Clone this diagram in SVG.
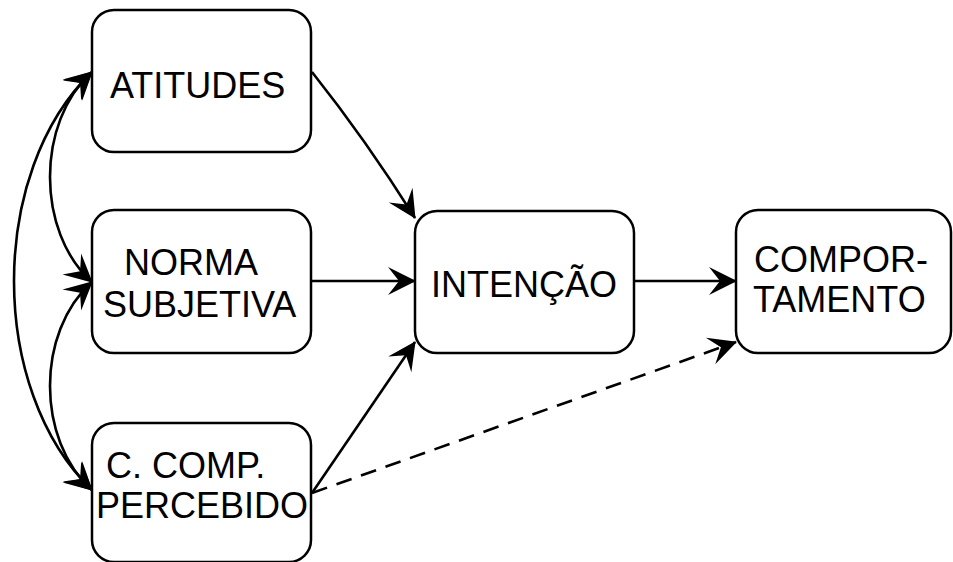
<svg xmlns="http://www.w3.org/2000/svg" width="953" height="562" viewBox="0 0 953 562">
<style>
.box{fill:#fff;stroke:#000;stroke-width:2.5}
.lbl{font-family:"Liberation Sans",Arial,sans-serif;font-size:36px;fill:#000}
.c{fill:none;stroke:#000;stroke-width:2.6}
.d{stroke-dasharray:16 10}
</style>
<defs>
<marker id="ah" markerUnits="userSpaceOnUse" viewBox="-30 -16 32 32" refX="0" refY="0" markerWidth="32" markerHeight="32" orient="auto-start-reverse">
<path d="M1,0 L-27,-14 L-16,0 L-27,14 Z" fill="#000"/>
</marker>
</defs>
<rect width="953" height="562" fill="#fff"/>
<g id="connectors">
<path class="c" d="M92,72 C-12,172 -12,390 92,490" marker-start="url(#ah)" marker-end="url(#ah)"/>
<path class="c" d="M92,72 C36,122 36,232 92,282" marker-start="url(#ah)" marker-end="url(#ah)"/>
<path class="c" d="M92,282 C36,332 36,440 92,490" marker-start="url(#ah)" marker-end="url(#ah)"/>
<path class="c" d="M312,72 Q366,140 415,218" marker-end="url(#ah)"/>
<path class="c" d="M311,281 L415,281" marker-end="url(#ah)"/>
<path class="c" d="M312,493 L415,342" marker-end="url(#ah)"/>
<path class="c" d="M634,281 L736,281" marker-end="url(#ah)"/>
<path class="c d" d="M312,493 L736,342" marker-end="url(#ah)"/>
</g>
<g id="atitudes">
<rect class="box" x="92" y="10" width="219" height="142" rx="22"/>
<text class="lbl" x="110" y="98">ATITUDES</text>
</g>
<g id="norma">
<rect class="box" x="92" y="210" width="219" height="143" rx="22"/>
<text class="lbl" x="124" y="275">NORMA</text>
<text class="lbl" x="103" y="317">SUBJETIVA</text>
</g>
<g id="ccomp">
<rect class="box" x="92" y="423" width="219" height="139" rx="22"/>
<text class="lbl" x="106" y="478">C. COMP.</text>
<text class="lbl" x="96" y="518">PERCEBIDO</text>
</g>
<g id="intencao">
<rect class="box" x="415" y="211" width="219" height="142" rx="22"/>
<text class="lbl" x="431" y="297">INTENÇÃO</text>
</g>
<g id="comportamento">
<rect class="box" x="736" y="210" width="215" height="143" rx="22"/>
<text class="lbl" x="754" y="272">COMPOR-</text>
<text class="lbl" x="753" y="312">TAMENTO</text>
</g>
</svg>
